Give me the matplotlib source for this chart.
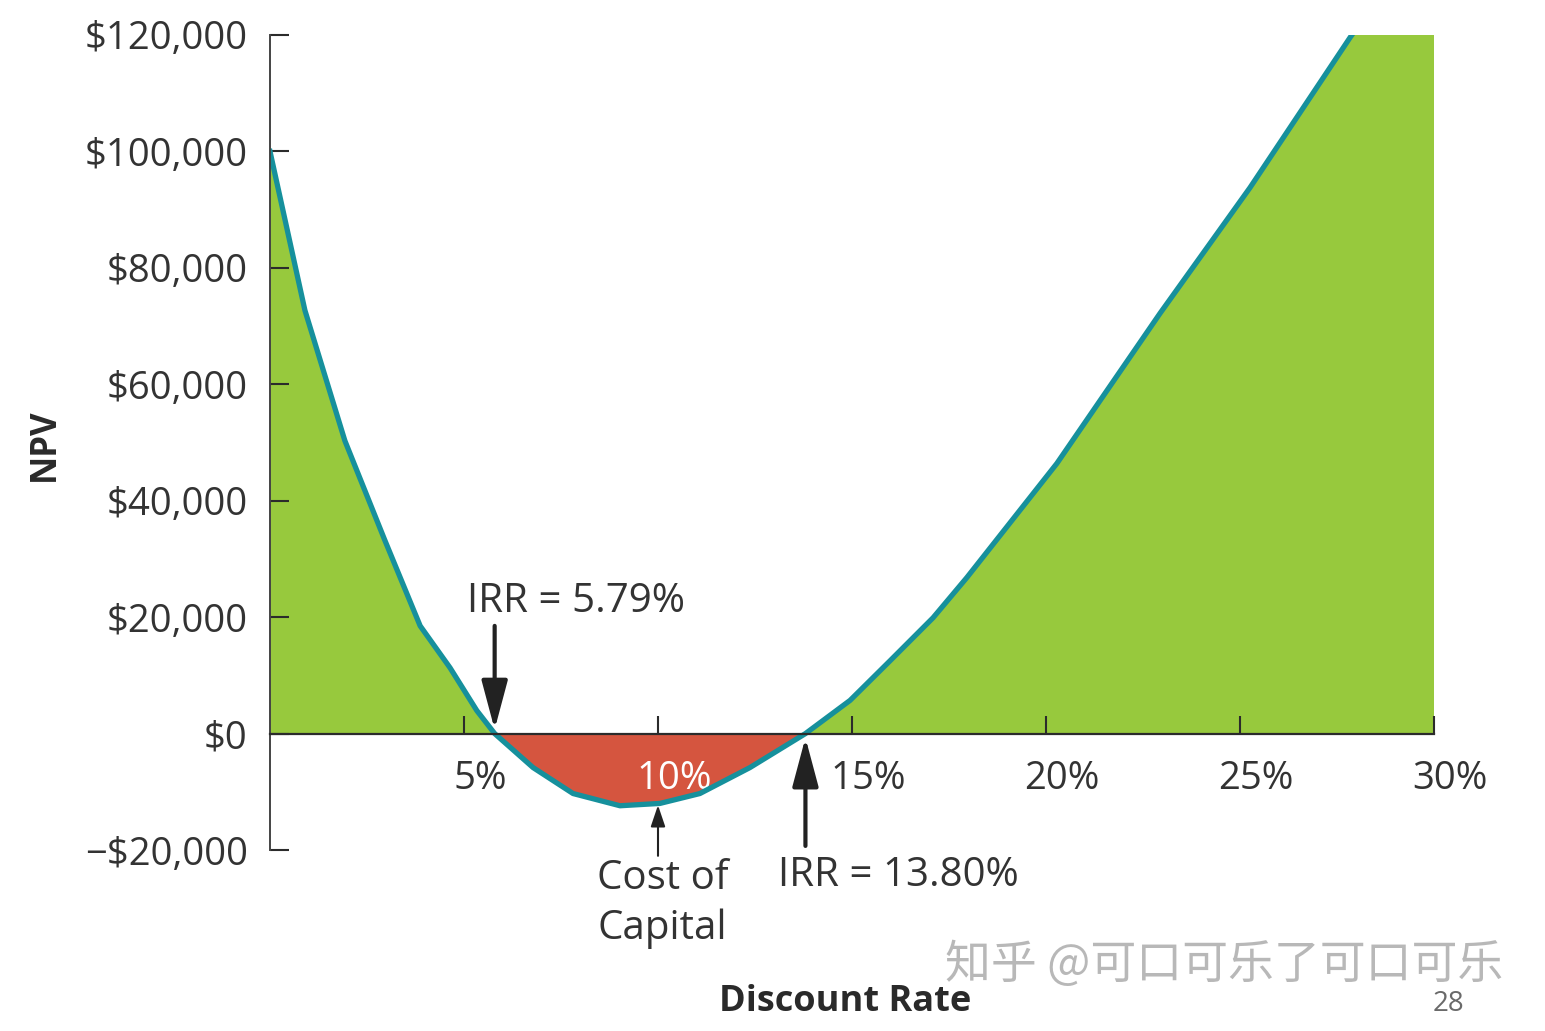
import matplotlib
matplotlib.use("Agg")
import matplotlib.pyplot as plt
from matplotlib.transforms import ScaledTranslation

# NPV profile
rates = [0, 0.9, 1.93, 2.96, 3.87, 4.64, 5.33, 5.79, 6.78, 7.81, 9.02, 10.05,
         11.08, 12.37, 13.8, 14.95, 15.98, 17.09, 17.96, 20.28, 22.94, 25.26,
         27.84, 30]
npv = [100000, 72700, 50300, 33200, 18500, 11300, 3950, 0, -5840, -10300,
       -12400, -12000, -10300, -5840, 0, 5700, 12500, 19900, 26800, 46400,
       72200, 93800, 119600, 140000]

xticks = [5, 10, 15, 20, 25, 30]
xlabels = ["5%", "10%", "15%", "20%", "25%", "30%"]
yticks = [-20000, 0, 20000, 40000, 60000, 80000, 100000, 120000]
ylabels = ["\u2212$20,000", "$0", "$20,000", "$40,000", "$60,000",
           "$80,000", "$100,000", "$120,000"]

irr_low, irr_high, cost_cap = 5.79, 13.80, 10.0

GREEN = "#97c93d"
RED = "#d5553f"
TEAL = "#16909c"
DARK = "#2b2b2b"

plt.rcParams['font.family'] = ['Open Sans', 'DejaVu Sans']

fig = plt.figure(figsize=(15.45, 10.31), dpi=100)
ax = fig.add_axes([270/1545, 1 - 850/1031, (1434-270)/1545, (850-35)/1031])

ax.fill_between(rates, npv, 0, where=[v >= 0 for v in npv],
                interpolate=True, color=GREEN, lw=0, zorder=1)
ax.fill_between(rates, npv, 0, where=[v <= 0 for v in npv],
                interpolate=True, color=RED, lw=0, zorder=1)
ax.plot(rates, npv, color=TEAL, lw=3.8, zorder=3, solid_joinstyle='round')

ax.set_xlim(0, 30)
ax.set_ylim(-20000, 120000)

for s in ['top', 'right']:
    ax.spines[s].set_visible(False)
ax.spines['bottom'].set_position(('data', 0))
ax.spines['bottom'].set_color(DARK)
ax.spines['bottom'].set_linewidth(1.6)
ax.spines['bottom'].set_zorder(4)
ax.spines['left'].set_color('#444444')
ax.spines['left'].set_linewidth(1.4)
ax.spines['left'].set_zorder(4)

ax.set_yticks(yticks)
ax.set_yticklabels(ylabels)
ax.set_xticks(xticks)
ax.set_xticklabels(xlabels)
ax.tick_params(axis='y', direction='in', length=14, width=1.5, color=DARK,
               pad=16, labelsize=27.5, labelcolor='#333333')
ax.tick_params(axis='x', direction='in', length=13, width=1.5, color=DARK,
               pad=19, labelsize=27.5, labelcolor='#333333')

shift = ScaledTranslation(0.16, 0, fig.dpi_scale_trans)
for lab in ax.get_xticklabels():
    lab.set_transform(lab.get_transform() + shift)
    lab.set_zorder(5)
ax.get_xticklabels()[1].set_color('white')

arrow_big = dict(arrowstyle='-|>,head_length=0.75,head_width=0.2',
                 mutation_scale=40, lw=3, color='#222222', shrinkA=0, shrinkB=0)
arrow_small = dict(arrowstyle='-|>,head_length=0.65,head_width=0.22',
                   mutation_scale=20, lw=1.5, color='#222222', shrinkA=0, shrinkB=0)

ax.annotate('', xy=(irr_low, 700), xytext=(irr_low, 18500),
            arrowprops=arrow_big, zorder=6)
ax.text(5.08, 22600, 'IRR = 5.79%', fontsize=29, color='#333333',
        va='center', ha='left')

ax.annotate('', xy=(irr_high, -700), xytext=(irr_high, -19300),
            arrowprops=arrow_big, annotation_clip=False, zorder=6)
ax.text(13.09, -24400, 'IRR = 13.80%', fontsize=29, color='#333333',
        va='center', ha='left', clip_on=False)

ax.annotate('', xy=(cost_cap, -12300), xytext=(cost_cap, -21000),
            arrowprops=arrow_small, annotation_clip=False, zorder=6)
ax.text(8.43, -29200, 'Cost of\nCapital', fontsize=29, color='#333333',
        va='center', ha='left', linespacing=1.3, clip_on=False)

fig.text(45/1545, 1 - 445/1031, 'NPV', rotation=90, fontsize=25,
         fontweight='bold', color='#2a2a2a', ha='center', va='center')
fig.text(845/1545, 1 - 1002/1031, 'Discount Rate', fontsize=26,
         fontweight='bold', color='#2a2a2a', ha='center', va='center')

fig.text(945/1545, 1 - 965/1031, '知乎 @可口可乐了可口可乐', fontsize=33,
         color='#b8b8b8', ha='left', va='center',
         family=['Noto Sans CJK SC', 'DejaVu Sans'])
fig.text(1448/1545, 1 - 1004/1031, '28', fontsize=20, color='#6a6a6a',
         ha='center', va='center')

fig.savefig('out.png', dpi=100)
